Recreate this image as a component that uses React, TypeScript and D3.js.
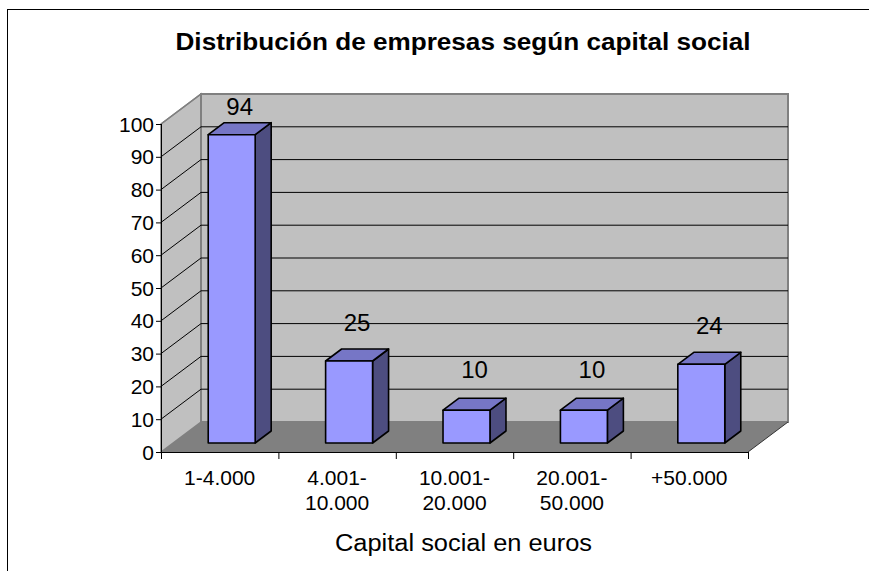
import React from "react";
import * as d3 from "d3";

const categories: string[][] = [
  ["1-4.000"],
  ["4.001-", "10.000"],
  ["10.001-", "20.000"],
  ["20.001-", "50.000"],
  ["+50.000"],
];
const values: number[] = [94, 25, 10, 10, 24];
const yTicks: number[] = [0, 10, 20, 30, 40, 50, 60, 70, 80, 90, 100];
const gridValues: number[] = [10, 20, 30, 40, 50, 60, 70, 80, 90];
const titleText = "Distribución de empresas según capital social";
const xAxisTitle = "Capital social en euros";

const W = 869;
const H = 571;
const DX = 40;
const DY = -30;
const FONT = "Arial, 'Liberation Sans', Helvetica, sans-serif";

export default function App() {
  const x = d3
    .scaleBand<number>()
    .domain(values.map((_, i) => i))
    .range([161, 748])
    .paddingInner(0)
    .paddingOuter(0);
  const y = d3.scaleLinear().domain([0, 100]).range([452, 124]);
  const labelY = d3.scaleLinear().domain([0, 100]).range([409, 96]);

  const bw = x.bandwidth();
  const barW = bw * 0.4;
  const d0 = 0.3;
  const d1 = 0.7;

  const p = (xx: number, v: number, d: number): [number, number] => [
    xx + DX * d,
    y(v) + DY * d,
  ];
  const poly = (pts: [number, number][]) => pts.map((q) => q.join(",")).join(" ");

  const x0 = 161;
  const x1 = 748;

  return (
    <svg
      width={W}
      height={H}
      style={{ position: "absolute", left: 0, top: 0, background: "#fff" }}
      fontFamily={FONT}
    >
      <rect x={0} y={0} width={W} height={H} fill="#fff" />
      {/* outer frame */}
      <rect x={7.5} y={9.5} width={W + 20} height={H + 20} fill="none" stroke="#000" strokeWidth={1} />

      {/* title */}
      <text
        x={463}
        y={50}
        textAnchor="middle"
        fontWeight="bold"
        fontSize={23}
        textLength={575}
        lengthAdjust="spacingAndGlyphs"
      >
        {titleText}
      </text>

      {/* side wall */}
      <polygon
        points={poly([p(x0, 0, 0), p(x0, 100, 0), p(x0, 100, 1), p(x0, 0, 1)])}
        fill="#C0C0C0"
        stroke="#808080"
        strokeWidth={1.5}
      />
      {/* back wall */}
      <polygon
        points={poly([p(x0, 0, 1), p(x0, 100, 1), p(x1, 100, 1), p(x1, 0, 1)])}
        fill="#C0C0C0"
        stroke="#808080"
        strokeWidth={2}
      />
      {/* floor */}
      <polygon
        points={poly([p(x0, 0, 0), p(x1, 0, 0), p(x1, 0, 1), p(x0, 0, 1)])}
        fill="#808080"
        stroke="none"
      />
      <line
        x1={p(x1, 0, 0)[0]}
        y1={p(x1, 0, 0)[1]}
        x2={p(x1, 0, 1)[0]}
        y2={p(x1, 0, 1)[1]}
        stroke="#333"
        strokeWidth={1}
      />

      {/* gridlines */}
      {gridValues.map((v) => {
        const a = p(x0, v, 0);
        const b = p(x0, v, 1);
        const c = p(x1, v, 1);
        return (
          <polyline
            key={v}
            points={poly([a, b, c])}
            fill="none"
            stroke="#000"
            strokeWidth={1}
          />
        );
      })}
      {/* top diagonal */}
      <line
        x1={p(x0, 100, 0)[0]}
        y1={p(x0, 100, 0)[1]}
        x2={p(x0, 100, 1)[0]}
        y2={p(x0, 100, 1)[1]}
        stroke="#808080"
        strokeWidth={1.5}
      />

      {/* y axis */}
      <line x1={x0 + 0.5} y1={y(100)} x2={x0 + 0.5} y2={y(0) + 7} stroke="#000" strokeWidth={1} />
      {yTicks.map((v) => (
        <g key={v}>
          <line x1={x0 - 5} y1={y(v) + 0.5} x2={x0} y2={y(v) + 0.5} stroke="#000" strokeWidth={1} />
          <text x={x0 - 7} y={y(v)} dy="0.36em" textAnchor="end" fontSize={21}>
            {v}
          </text>
        </g>
      ))}

      {/* x axis */}
      <line x1={x0} y1={y(0) + 0.5} x2={x1} y2={y(0) + 0.5} stroke="#000" strokeWidth={1} />
      {values.map((_, i) => (
        <line
          key={i}
          x1={(x(i) as number) + bw + 0.5}
          y1={y(0)}
          x2={(x(i) as number) + bw + 0.5}
          y2={y(0) + 7}
          stroke="#000"
          strokeWidth={1}
        />
      ))}

      {/* bars */}
      {values.map((v, i) => {
        const bx0 = (x(i) as number) + (bw - barW) / 2;
        const bx1 = bx0 + barW;
        const ftl = p(bx0, v, d0);
        const ftr = p(bx1, v, d0);
        const fbr = p(bx1, 0, d0);
        const fbl = p(bx0, 0, d0);
        const btl = p(bx0, v, d1);
        const btr = p(bx1, v, d1);
        const bbr = p(bx1, 0, d1);
        return (
          <g key={i} stroke="#000" strokeWidth={1.6} strokeLinejoin="round">
            <polygon points={poly([ftr, btr, bbr, fbr])} fill="#4D4D80" />
            <polygon points={poly([ftl, ftr, btr, btl])} fill="#7676C6" />
            <polygon points={poly([ftl, ftr, fbr, fbl])} fill="#9999FF" />
          </g>
        );
      })}

      {/* data labels */}
      {values.map((v, i) => (
        <text
          key={i}
          x={(x(i) as number) + bw / 2 + DX * 0.5}
          y={labelY(v)}
          textAnchor="middle"
          fontSize={24}
        >
          {v}
        </text>
      ))}

      {/* category labels */}
      {categories.map((lines, i) => (
        <text key={i} x={(x(i) as number) + bw / 2} y={485} textAnchor="middle" fontSize={21}>
          {lines.map((l, j) => (
            <tspan key={j} x={(x(i) as number) + bw / 2} dy={j === 0 ? 0 : 25}>
              {l}
            </tspan>
          ))}
        </text>
      ))}

      {/* x axis title */}
      <text
        x={463.5}
        y={551}
        textAnchor="middle"
        fontSize={23}
        textLength={257}
        lengthAdjust="spacingAndGlyphs"
      >
        {xAxisTitle}
      </text>
    </svg>
  );
}
